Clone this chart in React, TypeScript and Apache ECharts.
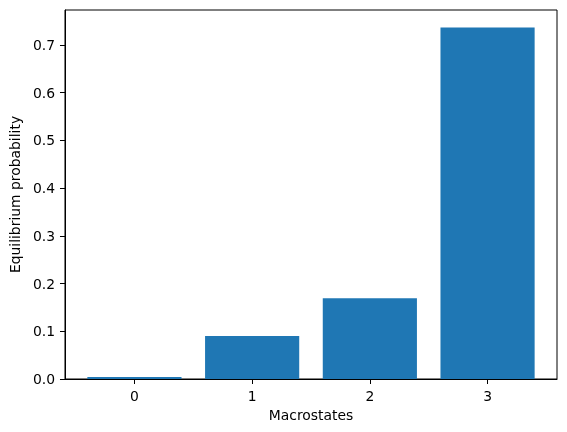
import React, { useEffect, useRef } from "react";
import * as echarts from "echarts";

const categories = [0, 1, 2, 3];
const probabilities = [0.0042, 0.0898, 0.169, 0.736];
const yTicks = [0, 0.1, 0.2, 0.3, 0.4, 0.5, 0.6, 0.7];
const xLabel = "Macrostates";
const yLabel = "Equilibrium probability";

const BAR_WIDTH = 0.8;
const FONT = "DejaVu Sans";
const FS = 13.9;

export default function App() {
  const ref = useRef<HTMLDivElement>(null);
  useEffect(() => {
    if (!ref.current) return;
    const chart = echarts.init(ref.current, undefined, { renderer: "svg" });
    const yMax = Math.max(...probabilities) * 1.05;
    const span = categories.length - 1 + BAR_WIDTH;
    const xMin = categories[0] - BAR_WIDTH / 2 - 0.05 * span;
    const xMax = categories[categories.length - 1] + BAR_WIDTH / 2 + 0.05 * span;
    chart.setOption({
      animation: false,
      textStyle: { fontFamily: FONT },
      grid: {
        left: 62,
        right: 10,
        top: 10,
        bottom: 53,
        show: true,
        borderColor: "#000",
        borderWidth: 1,
        containLabel: false,
      },
      xAxis: {
        type: "value",
        min: xMin,
        max: xMax,
        name: xLabel,
        nameLocation: "middle",
        nameGap: 29,
        nameTextStyle: { color: "#000", fontSize: FS, fontFamily: FONT },
        axisLine: { show: true, onZero: false, lineStyle: { color: "#000", width: 1 } },
        axisTick: { show: true, length: 5, customValues: categories, lineStyle: { color: "#000" } },
        axisLabel: {
          show: true,
          customValues: categories,
          margin: 10,
          color: "#000",
          fontSize: FS,
          fontFamily: FONT,
          formatter: (v: number) => String(Math.round(v)),
        },
        splitLine: { show: false },
      },
      yAxis: {
        type: "value",
        min: 0,
        max: yMax,
        name: yLabel,
        nameLocation: "middle",
        nameGap: 38,
        nameTextStyle: { color: "#000", fontSize: FS, fontFamily: FONT },
        axisLine: { show: true, onZero: false, lineStyle: { color: "#000", width: 1 } },
        axisTick: { show: true, length: 5, customValues: yTicks, lineStyle: { color: "#000" } },
        axisLabel: {
          show: true,
          customValues: yTicks,
          margin: 10,
          color: "#000",
          fontSize: FS,
          fontFamily: FONT,
          formatter: (v: number) => v.toFixed(1),
        },
        splitLine: { show: false },
      },
      series: [
        {
          type: "custom",
          data: categories.map((c, i) => [c, probabilities[i]]),
          renderItem: (params: any, api: any) => {
            const x = api.value(0);
            const y = api.value(1);
            const p0 = api.coord([x - BAR_WIDTH / 2, y]);
            const p1 = api.coord([x + BAR_WIDTH / 2, 0]);
            return {
              type: "rect",
              shape: { x: p0[0], y: p0[1], width: p1[0] - p0[0], height: p1[1] - p0[1] },
              style: { fill: "#1f77b4" },
            };
          },
        },
      ],
    });
    return () => chart.dispose();
  }, []);
  return (
    <div
      ref={ref}
      style={{ position: "fixed", left: 0, top: 0, width: 567, height: 432 }}
    />
  );
}
